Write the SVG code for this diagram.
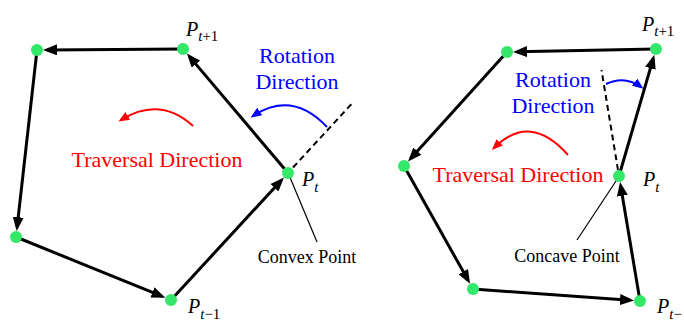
<svg xmlns="http://www.w3.org/2000/svg" width="684" height="321" viewBox="0 0 684 321">
<style>
.edge{stroke:#000;stroke-width:3;fill:none;marker-end:url(#ah)}
.dash{stroke:#000;stroke-width:2;fill:none;stroke-dasharray:6 4}
.lead{stroke:#000;stroke-width:1.2;fill:none}
.node{fill:#33e868}
.rarc{stroke:#ff0000;stroke-width:2;fill:none;marker-end:url(#ar)}
.barc{stroke:#0000ff;stroke-width:2;fill:none;marker-end:url(#ab)}
.big{font-size:22px}
.red{fill:#ff0000}
.blue{fill:#0000ff}
.small{font-size:18px;fill:#000}
.pl{font-size:20px;font-style:italic;fill:#000}
.sub{font-size:15px}
</style>
<defs>
<marker id="ah" markerUnits="userSpaceOnUse" markerWidth="14" markerHeight="11" refX="10" refY="5.5" orient="auto">
<path d="M0,0 L14,5.5 L0,11 z" fill="#000"/>
</marker>
<marker id="ar" markerUnits="userSpaceOnUse" markerWidth="11" markerHeight="9" refX="8" refY="4.5" orient="auto">
<path d="M0,0 L11,4.5 L0,9 z" fill="#ff0000"/>
</marker>
<marker id="ab" markerUnits="userSpaceOnUse" markerWidth="11" markerHeight="9" refX="8" refY="4.5" orient="auto">
<path d="M0,0 L11,4.5 L0,9 z" fill="#0000ff"/>
</marker>
</defs>

<g id="connectors">
<line class="edge" x1="183" y1="49" x2="47" y2="49.9"/>
<line class="edge" x1="37" y1="50" x2="17.1" y2="227.1"/>
<line class="edge" x1="16" y1="237" x2="161.7" y2="296.2"/>
<line class="edge" x1="171" y1="300" x2="281.2" y2="180.4"/>
<line class="edge" x1="288" y1="173" x2="189.5" y2="56.6"/>
<line class="dash" x1="293" y1="167.5" x2="352" y2="103.5"/>
<line class="lead" x1="289" y1="175" x2="317" y2="242"/>
<path class="rarc" d="M193,126 Q160,96 121,120"/>
<path class="barc" d="M327,127 Q292,90 253,116"/>
<line class="edge" x1="656" y1="49" x2="517" y2="51.8"/>
<line class="edge" x1="507" y1="52" x2="410.7" y2="158.6"/>
<line class="edge" x1="404" y1="166" x2="468.1" y2="280.3"/>
<line class="edge" x1="473" y1="289" x2="630" y2="300.3"/>
<line class="edge" x1="640" y1="301" x2="620.7" y2="185.9"/>
<line class="edge" x1="619" y1="176" x2="653.2" y2="58.6"/>
<line class="dash" x1="618" y1="170" x2="601.5" y2="70"/>
<line class="lead" x1="618" y1="178" x2="577" y2="240"/>
<path class="rarc" d="M568,155 Q530,112 494,148"/>
<path class="barc" d="M606,84 Q625,75 641,87"/>
</g>

<g font-family="Liberation Serif, Times New Roman, serif">
<g id="left-A"><circle class="node" cx="37" cy="50" r="6"/></g>
<g id="left-Pt1"><circle class="node" cx="183" cy="49" r="6"/>
<text class="pl" x="186" y="36">P<tspan class="sub" dy="5">t</tspan><tspan class="sub" font-style="normal">+1</tspan></text></g>
<g id="left-LB"><circle class="node" cx="16" cy="237" r="6"/></g>
<g id="left-Ptm1"><circle class="node" cx="171" cy="300" r="6"/>
<text class="pl" x="188" y="313">P<tspan class="sub" dy="6">t</tspan><tspan class="sub" font-style="normal">−1</tspan></text></g>
<g id="left-Pt"><circle class="node" cx="288" cy="173" r="6"/>
<text class="pl" x="302" y="186">P<tspan class="sub" dy="6">t</tspan></text></g>

<g id="right-B"><circle class="node" cx="507" cy="52" r="6"/></g>
<g id="right-Pt1"><circle class="node" cx="656" cy="49" r="6"/>
<text class="pl" x="642" y="31">P<tspan class="sub" dy="5">t</tspan><tspan class="sub" font-style="normal">+1</tspan></text></g>
<g id="right-L"><circle class="node" cx="404" cy="166" r="6"/></g>
<g id="right-BL"><circle class="node" cx="473" cy="289" r="6"/></g>
<g id="right-Ptm1"><circle class="node" cx="640" cy="301" r="6"/>
<text class="pl" x="657" y="313">P<tspan class="sub" dy="6">t</tspan><tspan class="sub" font-style="normal">−</tspan></text></g>
<g id="right-Pt"><circle class="node" cx="619" cy="176" r="6"/>
<text class="pl" x="643" y="186">P<tspan class="sub" dy="6">t</tspan></text></g>

<g id="labels">
<text class="big blue" x="297" y="63" text-anchor="middle">Rotation</text>
<text class="big blue" x="297" y="89" text-anchor="middle">Direction</text>
<text class="big red" x="157" y="167" text-anchor="middle">Traversal Direction</text>
<text class="small" x="307" y="263" text-anchor="middle">Convex Point</text>
<text class="big blue" x="553" y="87" text-anchor="middle">Rotation</text>
<text class="big blue" x="553" y="113" text-anchor="middle">Direction</text>
<text class="big red" x="518" y="182" text-anchor="middle">Traversal Direction</text>
<text class="small" x="567" y="262" text-anchor="middle">Concave Point</text>
</g>
</g>
</svg>
